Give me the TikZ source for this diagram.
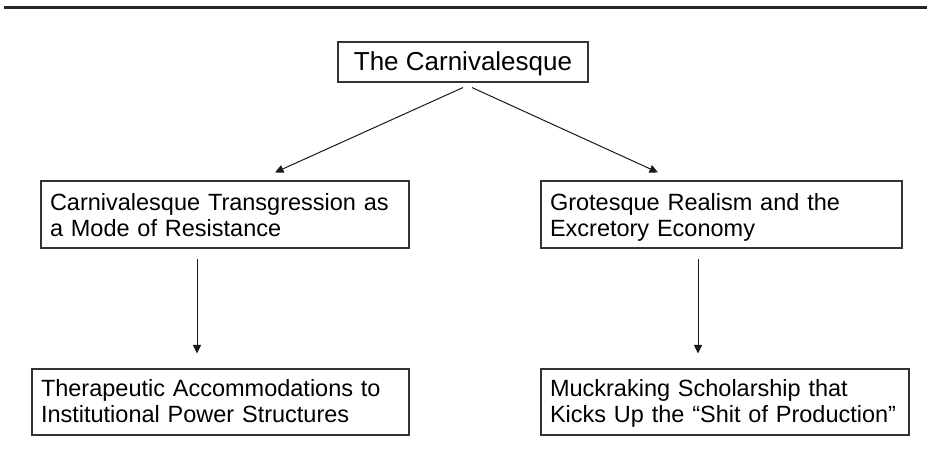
\documentclass[tikz,border=0pt]{standalone}
\usepackage{fontspec}
\setmainfont{Liberation Sans}
\usetikzlibrary{arrows.meta,calc}
\newcommand\firstst{\rule{0pt}{23pt}}
\newcommand\lastst{\rule[-6pt]{0pt}{6pt}}
\newcommand\firststb{\rule{0pt}{21pt}}
\begin{document}
\begin{tikzpicture}[x=1pt,y=-1pt,
  box/.style={draw=black!80, line width=1.1pt, inner ysep=0pt, inner xsep=9pt,
    align=left, font=\fontsize{23.5}{26}\selectfont},
  topbox/.style={draw=black!80, line width=1.1pt, inner sep=0pt,
    align=center, font=\fontsize{26}{28}\selectfont, text height=20pt, text depth=4pt},
  arr/.style={-{Triangle[length=8.5pt,width=8pt]}, line width=1pt, draw=black!90}]
\useasboundingbox[fill=white] (0,0) rectangle (927,464);
\draw[line width=3.2pt, black!85] (4,7.5) -- (927,7.5);

\node[topbox, minimum width=250pt, minimum height=40pt] (top) at (463,62) {The Carnivalesque};

\node[box, minimum height=67pt, text width=350pt] (l1) at (225,214.5)
  {\firstst Carnivalesque Transgression as\\a Mode of Resistance\lastst};
\node[box, minimum height=67pt, text width=343pt] (r1) at (721.5,214.5)
  {\firstst Grotesque Realism and the\\Excretory Economy\lastst};
\node[box, minimum height=66pt, text width=359pt] (l2) at (220.5,402)
  {\firststb Therapeutic Accommodations to\\Institutional Power Structures\lastst};
\node[box, minimum height=66pt, text width=350pt] (r2) at (725,402)
  {\firststb Muckraking Scholarship that\\Kicks Up the “Shit of Production”\lastst};

\draw[arr] ([yshift=-5pt]top.south) -- ([xshift=50pt,yshift=8pt]l1.north);
\draw[arr] ([xshift=9pt,yshift=-5pt]top.south) -- ([xshift=-63.5pt,yshift=8pt]r1.north);
\draw[arr] ([xshift=-28pt,yshift=-10pt]l1.south) -- ([xshift=-23.5pt,yshift=15pt]l2.north);
\draw[arr] ([xshift=-23.5pt,yshift=-10pt]r1.south) -- ([xshift=-27pt,yshift=15pt]r2.north);
\end{tikzpicture}
\end{document}
